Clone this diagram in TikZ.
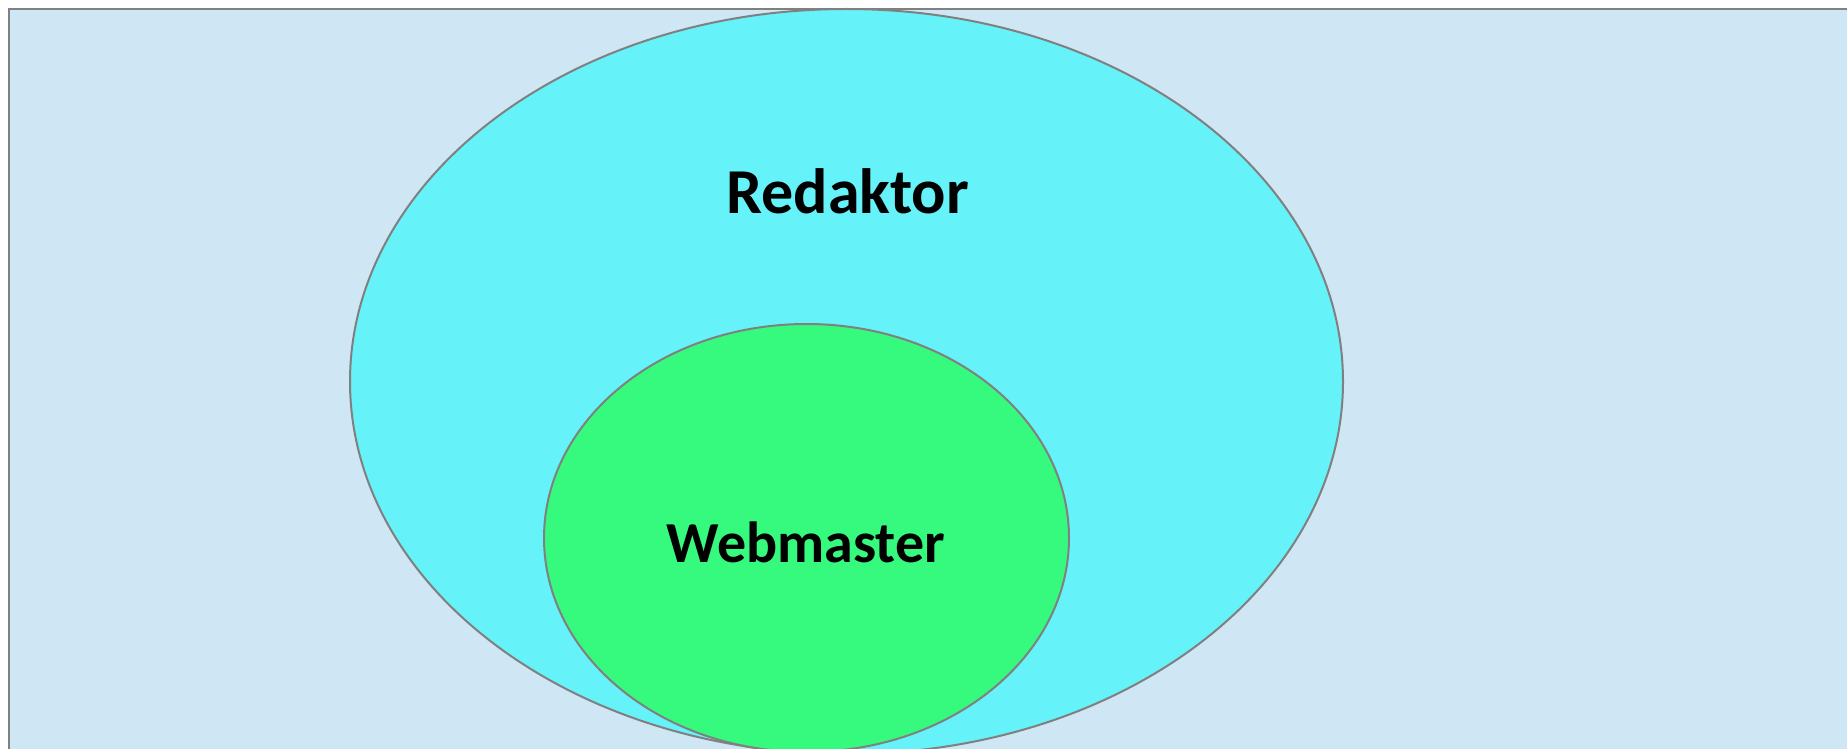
\documentclass[tikz,border=0pt]{standalone}
\usepackage{fontspec}
\setmainfont{Carlito}
\usetikzlibrary{shapes.geometric}
\definecolor{bgblue}{HTML}{CFE6F4}
\definecolor{cyanfill}{HTML}{66F2F9}
\definecolor{greenfill}{HTML}{36FA7E}
\definecolor{edgegray}{HTML}{808080}
\tikzset{
  region/.style={draw=edgegray, line width=2pt, ellipse, inner sep=0pt},
  lbl/.style={text=black, anchor=base, inner sep=0pt}
}
\begin{document}
\begin{tikzpicture}[x=1pt,y=-1pt]
\useasboundingbox (0,0) rectangle (1847,749);
\begin{scope}
\clip (0,0) rectangle (1847,749);
\node[draw=edgegray, line width=2pt, fill=bgblue, anchor=north west, minimum width=1900pt, minimum height=800pt, inner sep=0pt] (bg) at (8,8) {};
\node[region, fill=cyanfill, minimum width=993pt, minimum height=745pt] (outer) at (846.5,381.5) {};
\node[region, fill=greenfill, minimum width=525pt, minimum height=428pt] (inner) at (806.5,538) {};
\end{scope}
\node[lbl, font=\fontsize{64}{64}\selectfont\bfseries] (red) at (847.5,213) {Redaktor};
\node[lbl, font=\fontsize{58}{58}\selectfont\bfseries] (web) at (806,562) {Webmaster};
\end{tikzpicture}
\end{document}
